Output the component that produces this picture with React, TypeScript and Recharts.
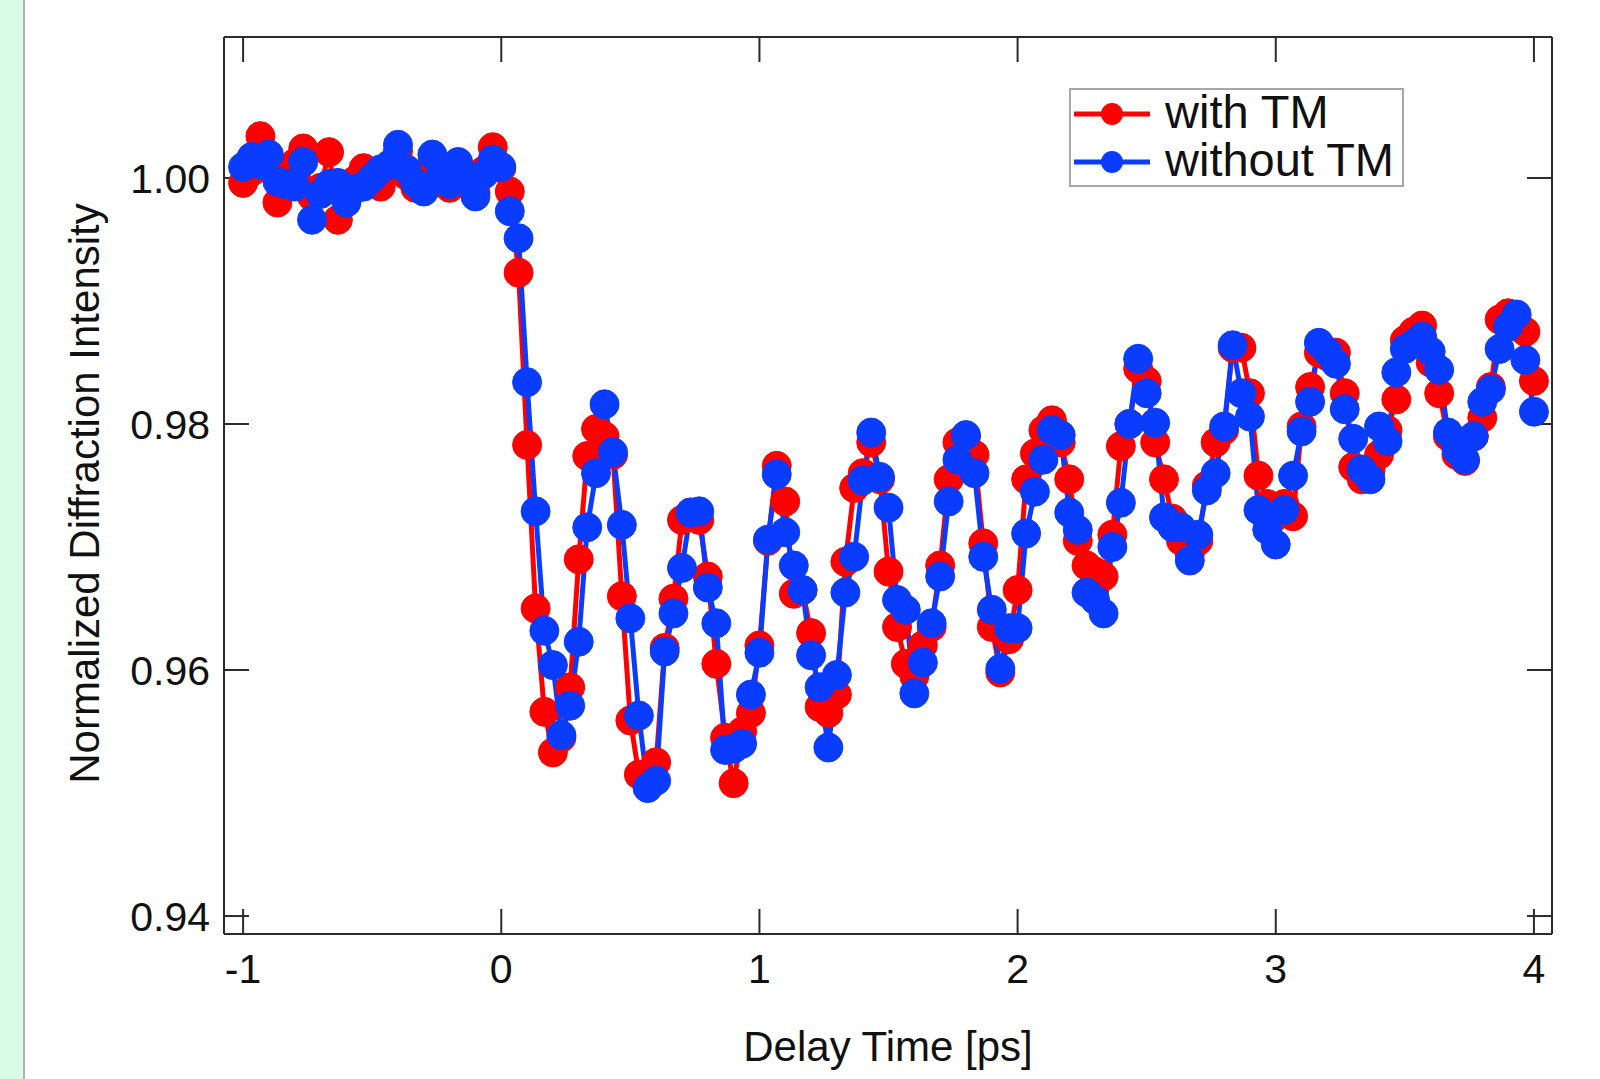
import React from "react";
import { LineChart, Line, XAxis, YAxis, Legend } from "recharts";

// delay time [ps]
const delay = [
  -1, -0.967, -0.933, -0.9, -0.867, -0.833, -0.8, -0.767, -0.733, -0.7,
  -0.667, -0.633, -0.6, -0.567, -0.533, -0.5, -0.467, -0.433, -0.4, -0.367,
  -0.333, -0.3, -0.267, -0.233, -0.2, -0.167, -0.133, -0.1, -0.067, -0.033,
  0, 0.033, 0.067, 0.1, 0.133, 0.167, 0.2, 0.233, 0.267, 0.3,
  0.333, 0.367, 0.4, 0.433, 0.467, 0.5, 0.533, 0.567, 0.6, 0.633,
  0.667, 0.7, 0.733, 0.767, 0.8, 0.833, 0.867, 0.9, 0.933, 0.967,
  1, 1.033, 1.067, 1.1, 1.133, 1.167, 1.2, 1.233, 1.267, 1.3,
  1.333, 1.367, 1.4, 1.433, 1.467, 1.5, 1.533, 1.567, 1.6, 1.633,
  1.667, 1.7, 1.733, 1.767, 1.8, 1.833, 1.867, 1.9, 1.933, 1.967,
  2, 2.033, 2.067, 2.1, 2.133, 2.167, 2.2, 2.233, 2.267, 2.3,
  2.333, 2.367, 2.4, 2.433, 2.467, 2.5, 2.533, 2.567, 2.6, 2.633,
  2.667, 2.7, 2.733, 2.767, 2.8, 2.833, 2.867, 2.9, 2.933, 2.967,
  3, 3.033, 3.067, 3.1, 3.133, 3.167, 3.2, 3.233, 3.267, 3.3,
  3.333, 3.367, 3.4, 3.433, 3.467, 3.5, 3.533, 3.567, 3.6, 3.633,
  3.667, 3.7, 3.733, 3.767, 3.8, 3.833, 3.867, 3.9, 3.933, 3.967,
  4,
];

const withTM = [
  0.9996, 1.0005, 1.0034, 1.0012, 0.998, 0.9995, 1.0012, 1.0024, 0.9985, 0.9992,
  1.0021, 0.9966, 0.9985, 0.9998, 1.0008, 1.0002, 0.9993, 1.0008, 1.0022, 1.0002,
  0.9992, 0.9995, 1.0012, 1.0003, 0.9992, 1.0008, 0.9996, 0.9988, 1.0006, 1.0025,
  1.0008, 0.9989, 0.9923, 0.9783, 0.965, 0.9566, 0.9533, 0.9545, 0.9586, 0.969,
  0.9774, 0.9796, 0.979, 0.9775, 0.966, 0.9559, 0.9515, 0.9505, 0.9525, 0.9618,
  0.9658, 0.9722, 0.9728, 0.9722, 0.9676, 0.9605, 0.9545, 0.9508, 0.955, 0.9565,
  0.962, 0.9705, 0.9766, 0.9737, 0.9662, 0.9665, 0.963, 0.957, 0.9565, 0.958,
  0.9688, 0.9748, 0.976, 0.9785, 0.9755, 0.968, 0.9635, 0.9605, 0.9595, 0.962,
  0.9635, 0.9685, 0.9755, 0.9785, 0.979, 0.9775, 0.9703, 0.9635, 0.9598, 0.9625,
  0.9665, 0.9755, 0.9776, 0.9795, 0.9803, 0.9785, 0.9755, 0.9705, 0.9685, 0.968,
  0.9676, 0.971, 0.9782, 0.98, 0.9845, 0.9835, 0.9785, 0.9755, 0.9723, 0.9705,
  0.9694, 0.9705, 0.975, 0.9785, 0.9795, 0.9862, 0.9862, 0.9825, 0.9758, 0.9735,
  0.9725, 0.9735, 0.9725, 0.9798, 0.983, 0.9858, 0.9855, 0.9858, 0.9825, 0.9765,
  0.9755, 0.9762, 0.9775, 0.9795, 0.982, 0.9868, 0.9875, 0.988, 0.985, 0.9825,
  0.979, 0.9775, 0.977, 0.979, 0.9805, 0.983, 0.9885, 0.989, 0.9885, 0.9875,
  0.9835,
];

const withoutTM = [
  1.0009, 1.0017, 1.0011, 1.0019, 0.9997, 0.9995, 0.9993, 1.0013, 0.9966, 0.9987,
  0.9995, 0.9996, 0.998, 0.9991, 0.9993, 1.0, 1.0007, 1.0011, 1.0027, 1.0007,
  0.9996, 0.9989, 1.0019, 1.0007, 0.9995, 1.0013, 0.9999, 0.9985, 1.0003, 1.0015,
  1.0009, 0.9973, 0.9951, 0.9834, 0.9729, 0.9632, 0.9604, 0.9547, 0.9571, 0.9623,
  0.9716, 0.976, 0.9816, 0.9777, 0.9718, 0.9642, 0.9563, 0.9504, 0.951, 0.9615,
  0.9646, 0.9683, 0.9728, 0.9729, 0.9667, 0.9638, 0.9535, 0.9536, 0.954, 0.958,
  0.9614, 0.9706, 0.9759, 0.9712, 0.9685, 0.9665, 0.9612, 0.9586, 0.9537, 0.9596,
  0.9663, 0.9692, 0.9754, 0.9793, 0.9757, 0.9732, 0.9657, 0.9649, 0.9581, 0.9606,
  0.9638, 0.9676, 0.9737, 0.9771, 0.9791, 0.976, 0.9692, 0.9649, 0.9601, 0.9634,
  0.9634, 0.9711, 0.9745, 0.9771, 0.9795, 0.9791, 0.9728, 0.9714, 0.9663, 0.9657,
  0.9646, 0.97, 0.9736, 0.98, 0.9853, 0.9825, 0.9801, 0.9724, 0.9716, 0.9716,
  0.9689, 0.971, 0.9746, 0.976, 0.9798, 0.9864, 0.9825, 0.9806, 0.973, 0.9714,
  0.9702, 0.973, 0.9758, 0.9794, 0.9818, 0.9866, 0.9859, 0.9849, 0.9812, 0.9788,
  0.9763, 0.9755, 0.9798, 0.9786, 0.9842, 0.9861, 0.9865, 0.9871, 0.9859, 0.9844,
  0.9793, 0.9779, 0.9771, 0.979, 0.9818, 0.9828, 0.9861, 0.9879, 0.9889, 0.9852,
  0.981,
];

const xTicks = [-1, 0, 1, 2, 3, 4];
const yTicks = [0.94, 0.96, 0.98, 1.0];

const RED = "#ff0000";
const BLUE = "#0a3cff";
const AXIS = "#2b2b2b";
const FONT = '"Liberation Sans", Arial, Helvetica, sans-serif';

const data = delay.map((t, i) => ({ t, withTM: withTM[i], withoutTM: withoutTM[i] }));

const legendItems = [
  { name: "with TM", color: RED },
  { name: "without TM", color: BLUE },
];

const renderLegend = () => (
  <div
    style={{
      width: 335,
      height: 99,
      boxSizing: "border-box",
      border: "2px solid #a8a8a8",
      background: "#fff",
      paddingTop: 0,
    }}
  >
    {legendItems.map((it) => (
      <div key={it.name} style={{ display: "flex", alignItems: "center", height: 48 }}>
        <svg width={94} height={30} style={{ display: "block", flex: "none" }}>
          <line x1={3} x2={79} y1={15} y2={15} stroke={it.color} strokeWidth={5} />
          <circle cx={41} cy={15} r={11} fill={it.color} />
        </svg>
        <span
          style={{
            position: "relative",
            top: -2,
            fontSize: 47,
            lineHeight: "48px",
            color: "#111",
            fontFamily: FONT,
            whiteSpace: "nowrap",
          }}
        >
          {it.name}
        </span>
      </div>
    ))}
  </div>
);

const axisLine = { stroke: AXIS, strokeWidth: 2 };
const tickLine = { stroke: AXIS, strokeWidth: 2 };
const tickStyle = { fontSize: 41, fill: "#111", fontFamily: FONT };
const blank = () => "";

export default function App() {
  return (
    <div style={{ position: "absolute", left: 0, top: 0, width: 1600, height: 1079, background: "#fff", fontFamily: FONT }}>
      <div
        style={{
          position: "absolute",
          left: 0,
          top: 0,
          width: 23,
          height: 1079,
          background: "#d8fce6",
          borderRight: "2px solid #b3b3b3",
        }}
      />
      <LineChart width={1600} height={1079} data={data} margin={{ top: 0, right: 0, bottom: 0, left: 0 }}>
        <XAxis
          xAxisId="b"
          dataKey="t"
          type="number"
          domain={[-1.074, 4.07]}
          allowDataOverflow
          ticks={xTicks}
          height={145}
          tickSize={-25}
          tickMargin={45}
          axisLine={axisLine}
          tickLine={tickLine}
          tick={tickStyle}
          label={{
            value: "Delay Time [ps]",
            position: "insideBottom",
            offset: 18,
            style: { fontSize: 42, fill: "#111", fontFamily: FONT },
          }}
        />
        <XAxis
          xAxisId="top"
          orientation="top"
          dataKey="t"
          type="number"
          domain={[-1.074, 4.07]}
          allowDataOverflow
          ticks={xTicks}
          height={37}
          tickSize={-25}
          axisLine={axisLine}
          tickLine={tickLine}
          tickFormatter={blank}
        />
        <YAxis
          yAxisId="l"
          type="number"
          domain={[0.93854, 1.01146]}
          allowDataOverflow
          ticks={yTicks}
          width={224}
          tickSize={-25}
          tickMargin={39}
          axisLine={axisLine}
          tickLine={tickLine}
          tick={tickStyle}
          tickFormatter={(v: number) => v.toFixed(2)}
          label={{
            value: "Normalized Diffraction Intensity",
            angle: -90,
            position: "insideLeft",
            offset: 84,
            dy: 8,
            style: { fontSize: 42, fill: "#111", fontFamily: FONT, textAnchor: "middle" },
          }}
        />
        <YAxis
          yAxisId="r"
          orientation="right"
          type="number"
          domain={[0.93854, 1.01146]}
          allowDataOverflow
          ticks={yTicks}
          width={48}
          tickSize={-25}
          axisLine={axisLine}
          tickLine={tickLine}
          tickFormatter={blank}
        />
        <Legend
          content={renderLegend}
          layout="vertical"
          align="center"
          verticalAlign="middle"
          wrapperStyle={{ position: "absolute", left: 1069, top: 88, width: 335, height: 99 }}
        />
        <Line
          xAxisId="b"
          yAxisId="l"
          dataKey="withTM"
          name="with TM"
          stroke={RED}
          strokeWidth={5}
          dot={{ r: 14.5, fill: RED, stroke: RED, strokeWidth: 1 }}
          activeDot={false}
          isAnimationActive={false}
        />
        <Line
          xAxisId="b"
          yAxisId="l"
          dataKey="withoutTM"
          name="without TM"
          stroke={BLUE}
          strokeWidth={5}
          dot={{ r: 14.5, fill: BLUE, stroke: BLUE, strokeWidth: 1 }}
          activeDot={false}
          isAnimationActive={false}
        />
      </LineChart>
    </div>
  );
}
